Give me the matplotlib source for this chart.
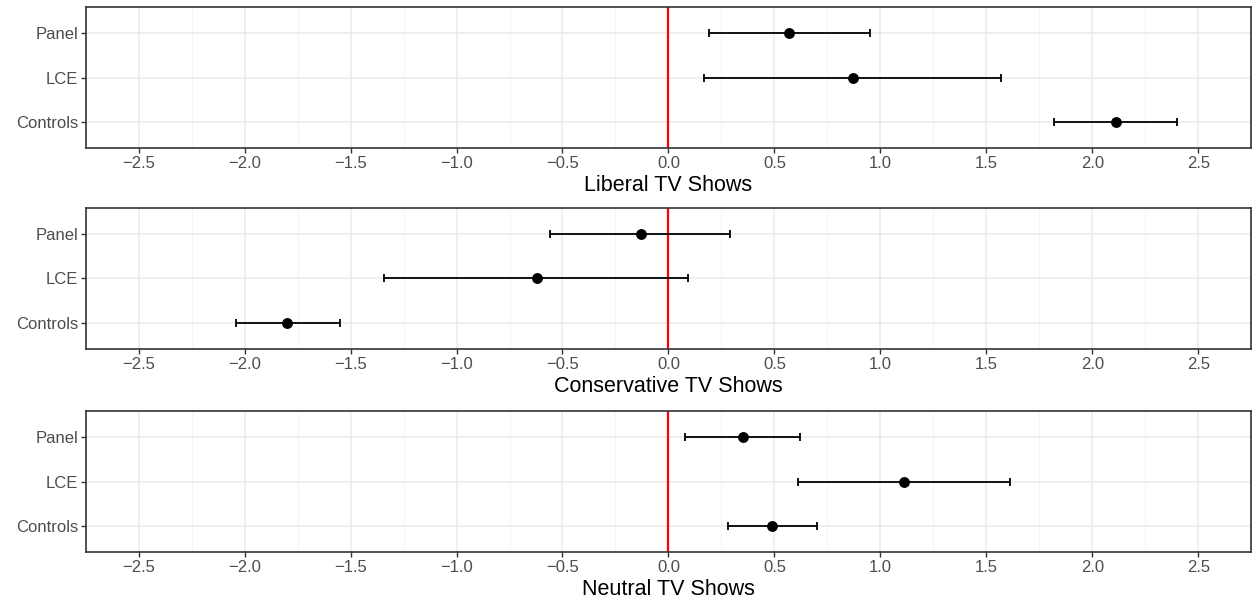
import matplotlib.pyplot as plt
import numpy as np

plt.rcParams['font.family'] = ['Liberation Sans', 'DejaVu Sans']

# Modeller (nedefra og op)
models = ['Controls', 'LCE', 'Panel']
panel_titles = ['Liberal TV Shows', 'Conservative TV Shows', 'Neutral TV Shows']

# Estimater og konfidensintervaller for hver model (Controls, LCE, Panel)
liberal_est = [2.11, 0.87, 0.57]
liberal_lo = [1.82, 0.17, 0.19]
liberal_hi = [2.40, 1.57, 0.95]

conservative_est = [-1.80, -0.62, -0.13]
conservative_lo = [-2.04, -1.34, -0.56]
conservative_hi = [-1.55, 0.09, 0.29]

neutral_est = [0.49, 1.11, 0.35]
neutral_lo = [0.28, 0.61, 0.08]
neutral_hi = [0.70, 1.61, 0.62]

estimates = [liberal_est, conservative_est, neutral_est]
lows = [liberal_lo, conservative_lo, neutral_lo]
highs = [liberal_hi, conservative_hi, neutral_hi]

fig = plt.figure(figsize=(12.54, 5.98), dpi=100)

# Placering af panelerne (i figur-brøk)
left = 0.0683
width = 0.9295
height = 0.2358
bottoms = [0.7525, 0.4164, 0.0769]

yPos = np.arange(1, len(models) + 1)
xTicks = np.arange(-2.5, 2.6, 0.5)

for k in range(3):
    ax = fig.add_axes([left, bottoms[k], width, height])
    est = np.array(estimates[k])
    lo = np.array(lows[k])
    hi = np.array(highs[k])

    # Gitterlinjer som i ggplot theme_bw
    for x in np.arange(-2.25, 2.6, 0.5):
        ax.axvline(x, color='#F2F2F2', lw=0.6, zorder=0)
    for x in xTicks:
        ax.axvline(x, color='#EBEBEB', lw=1.1, zorder=0)
    for y in yPos:
        ax.axhline(y, color='#EBEBEB', lw=1.1, zorder=0)

    ax.axvline(0, color='red', lw=1.6, zorder=2)
    ax.errorbar(est, yPos, xerr=[est - lo, hi - est], fmt='none',
                ecolor='black', elinewidth=1.3, capsize=2.8, capthick=1.3, zorder=3)
    ax.plot(est, yPos, 'o', color='black', ms=6.8, zorder=4)

    ax.set_xlim(-2.75, 2.75)
    ax.set_ylim(0.4, 3.6)
    ax.set_xticks(xTicks)
    ax.set_xticklabels(['\u2212' + f'{abs(v):.1f}' if v < -1e-9 else f'{abs(v):.1f}'
                        for v in xTicks])
    ax.set_yticks(yPos)
    ax.set_yticklabels(models)
    ax.tick_params(axis='both', colors='#333333', labelcolor='#4D4D4D',
                   labelsize=12, length=3.5, width=1, pad=2)
    ax.set_xlabel(panel_titles[k], fontsize=15.5, color='black', labelpad=3)
    for s in ax.spines.values():
        s.set_color('#333333')
        s.set_linewidth(1.2)

fig.savefig('out.png', dpi=100)
